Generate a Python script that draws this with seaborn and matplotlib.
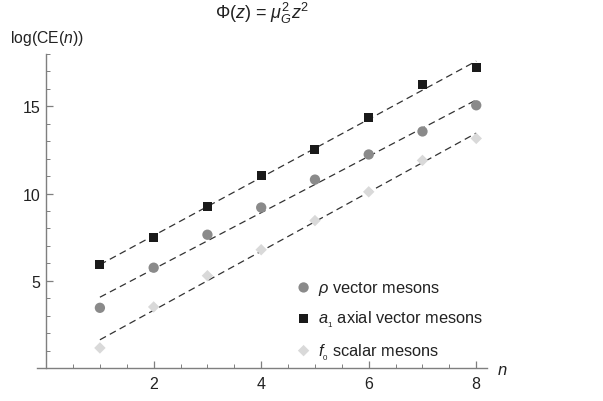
import numpy as np
import pandas as pd
import matplotlib
matplotlib.use("Agg")
import matplotlib.pyplot as plt
import seaborn as sns
from matplotlib.ticker import MultipleLocator

n = [1, 2, 3, 4, 5, 6, 7, 8]
rho_vals = [3.45, 5.75, 7.64, 9.20, 10.80, 12.24, 13.56, 15.06]
a1_vals = [5.92, 7.47, 9.25, 11.03, 12.53, 14.37, 16.26, 17.24]
f0_vals = [1.15, 3.50, 5.29, 6.78, 8.45, 10.10, 11.90, 13.16]
labels = [r"$\rho$ vector mesons", r"$a_{_1}$ axial vector mesons", r"$f_{_0}$ scalar mesons"]
xticks = [2, 4, 6, 8]
yticks = [5, 10, 15]

sns.set_style("ticks")
plt.rcParams['font.family'] = ['Liberation Sans', 'DejaVu Sans']
plt.rcParams['mathtext.fontset'] = 'custom'
plt.rcParams['mathtext.rm'] = 'Liberation Sans'
plt.rcParams['mathtext.it'] = 'Liberation Sans:italic'
plt.rcParams['mathtext.bf'] = 'Liberation Sans:bold'

fig = plt.figure(figsize=(6.03, 4.02), dpi=100)
ax = fig.add_axes([37/603, 1 - 369/402, (487 - 37)/603, (369 - 55)/402])

series = [
    (rho_vals, labels[0], "#8a8a8a", "o", 55),
    (a1_vals, labels[1], "#1a1a1a", "s", 42),
    (f0_vals, labels[2], "#d9d9d9", "D", 34),
]
for vals, lab, col, mk, s in series:
    df = pd.DataFrame({"n": n, "v": vals})
    sns.regplot(data=df, x="n", y="v", ax=ax, scatter=False, ci=None, truncate=True,
                line_kws=dict(color="#333333", lw=0.9, dashes=(5.5, 3.5)))
    sns.scatterplot(data=df, x="n", y="v", ax=ax, color=col, marker=mk, s=s,
                    edgecolor="none", label=lab, zorder=3)

ax.set_xlim(-0.17, 8.2)
ax.set_ylim(0, 18)
ax.spines['left'].set_position(('data', 0))
ax.spines['bottom'].set_position(('data', 0))
ax.spines['top'].set_visible(False)
ax.spines['right'].set_visible(False)
for sp in ('left', 'bottom'):
    ax.spines[sp].set_color('#7f7f7f')
    ax.spines[sp].set_linewidth(1.0)
ax.set_xticks(xticks)
ax.set_yticks(yticks)
ax.xaxis.set_minor_locator(MultipleLocator(0.5))
ax.yaxis.set_minor_locator(MultipleLocator(1))
ax.tick_params(which='both', direction='in', color='#7f7f7f', labelcolor='#222222', labelsize=11.5)
ax.tick_params(which='major', length=5, width=0.9)
ax.tick_params(which='minor', length=3, width=0.7)
ax.tick_params(axis='x', pad=6)
ax.tick_params(axis='y', pad=4)
ax.set_xlabel("")
ax.set_ylabel("")

fig.text(10/603, 1 - 39/402, r"log(CE($n$))", fontsize=11.3, color='#222222', va='center', ha='left')
fig.text(497/603, 1 - 371/402, r"$n$", fontsize=12, color='#222222', va='center', ha='left')
fig.text(262/603, 1 - 13/402, r"$\Phi(z)$ = $\mu_G^2 z^2$", fontsize=13, color='#222222', va='center', ha='center')

leg = ax.legend(loc='upper left', bbox_to_anchor=(279/603, 1 - 265/402), bbox_transform=fig.transFigure,
                frameon=False, fontsize=11.8, labelspacing=0.72, handletextpad=0.3, handlelength=1.2,
                labelcolor='#222222')

fig.savefig("out.png", dpi=100)
